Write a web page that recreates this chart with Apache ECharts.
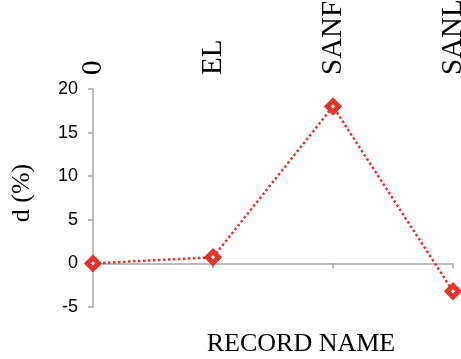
<!DOCTYPE html>
<html>
<head>
<meta charset="utf-8">
<script src="https://cdn.jsdelivr.net/npm/echarts@6/dist/echarts.min.js"></script>
<style>
  html, body { margin: 0; padding: 0; background: #fff; }
  #chart { width: 461px; height: 359px; }
</style>
</head>
<body>
<div id="chart"></div>
<script>
// Record names along the top, deviation d (%) per record
const recordNames = ['0', 'EL', 'SANF', 'SANL'];
const deviation = [0, 0.7, 18.0, -3.2];
const yTicks = { min: -5, max: 20, step: 5 };

const RED = '#e3342b';
const AXIS_GREY = '#a6a6a6';
const SERIF = '"Liberation Serif", "Times New Roman", serif';
const SANS = '"Liberation Sans", Arial, sans-serif';

const chart = echarts.init(document.getElementById('chart'));
chart.setOption({
  animation: false,
  grid: { left: 93, right: 8, top: 89, bottom: 52, containLabel: false, outerBoundsMode: 'none' },
  xAxis: [
    {
      type: 'category',
      data: recordNames,
      boundaryGap: false,
      axisLine: { show: true, onZero: true, lineStyle: { color: AXIS_GREY, width: 1.5 } },
      axisTick: { show: true, length: 5, lineStyle: { color: AXIS_GREY, width: 1.5 } },
      axisLabel: { show: false },
      splitLine: { show: false }
    },
    {
      type: 'category',
      position: 'top',
      data: recordNames,
      boundaryGap: false,
      axisLine: { show: false },
      axisTick: { show: false },
      axisLabel: {
        show: true,
        interval: 0,
        rotate: -90,
        margin: 14,
        fontFamily: SERIF,
        fontSize: 29,
        color: '#000',
        hideOverlap: false
      },
      splitLine: { show: false }
    }
  ],
  yAxis: {
    type: 'value',
    min: yTicks.min,
    max: yTicks.max,
    interval: yTicks.step,
    axisLine: { show: true, lineStyle: { color: AXIS_GREY, width: 1.5 } },
    axisTick: { show: true, length: 5, lineStyle: { color: AXIS_GREY, width: 1.5 } },
    axisLabel: { fontFamily: SANS, fontSize: 18, color: '#000', margin: 15 },
    splitLine: { show: false }
  },
  graphic: [
    {
      type: 'text',
      x: 22, y: 193,
      rotation: Math.PI / 2,
      style: {
        text: 'd (%)',
        font: '26px ' + SERIF,
        fill: '#000',
        align: 'center',
        verticalAlign: 'middle'
      }
    },
    {
      type: 'text',
      x: 301, y: 344,
      style: {
        text: 'RECORD NAME',
        font: '26px ' + SERIF,
        fill: '#000',
        align: 'center',
        verticalAlign: 'middle'
      }
    }
  ],
  series: [
    {
      type: 'line',
      data: deviation,
      xAxisIndex: 0,
      symbol: 'rect',
      symbolRotate: 45,
      symbolSize: 8,
      showAllSymbol: true,
      lineStyle: { color: RED, width: 2.5, type: 'dotted' },
      itemStyle: { color: '#fff', borderColor: RED, borderWidth: 5 },
      clip: false,
      z: 3
    }
  ]
});
</script>
</body>
</html>
